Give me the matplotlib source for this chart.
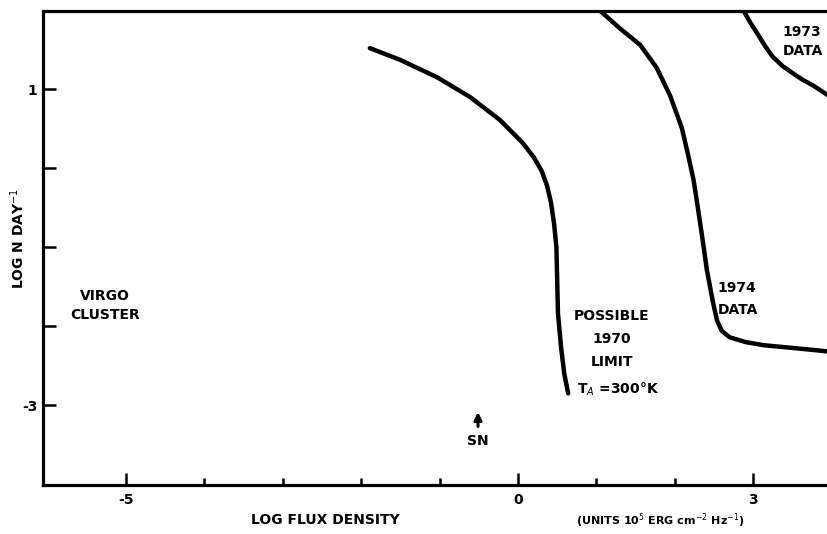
import matplotlib
matplotlib.use("Agg")
import matplotlib.pyplot as plt

# curves (log flux density, log N per day)
limit_1970_x = [-1.89, -1.50, -1.03, -0.61, -0.23, 0.06, 0.20, 0.30, 0.37,
                0.42, 0.46, 0.49, 0.50, 0.51, 0.55, 0.59, 0.64]
limit_1970_y = [1.52, 1.37, 1.15, 0.90, 0.61, 0.32, 0.14, -0.03, -0.22,
                -0.43, -0.70, -1.00, -1.42, -1.84, -2.27, -2.60, -2.85]

data_1974_x = [1.05, 1.30, 1.56, 1.77, 1.94, 2.09, 2.17, 2.24, 2.29, 2.35,
               2.41, 2.49, 2.54, 2.60, 2.70, 2.90, 3.13, 3.45, 3.76, 3.96]
data_1974_y = [1.99, 1.77, 1.56, 1.27, 0.92, 0.51, 0.17, -0.15, -0.47, -0.87,
               -1.29, -1.71, -1.93, -2.06, -2.14, -2.20, -2.24, -2.27, -2.30,
               -2.32]

data_1973_x = [2.88, 2.96, 3.05, 3.15, 3.25, 3.38, 3.51, 3.63, 3.76, 3.96]
data_1973_y = [1.99, 1.85, 1.71, 1.55, 1.41, 1.29, 1.20, 1.12, 1.05, 0.92]

x_ticks = [-5, -4, -3, -2, -1, 0, 1, 2, 3]
x_labeled = [-5, 0, 3]
y_ticks = [1, 0, -1, -2, -3]
y_labeled = [1, -3]

FONT = ["DejaVu Sans"]
TXT = dict(family=FONT, fontweight="bold", fontsize=10, color="black")


def px_to_data(px, py):
    # helper for placing annotations, based on the scan's pixel grid
    return (px - 518) / 78.4, (168 - py) / 79.0


def main():
    fig = plt.figure(figsize=(8.28, 5.34), dpi=100)
    ax = fig.add_axes([43 / 828, 49 / 534, 785 / 828, 474 / 534])

    ax.set_xlim(-6.06, 3.955)
    ax.set_ylim(-4.01, 1.99)

    for xs, ys in [(limit_1970_x, limit_1970_y),
                   (data_1974_x, data_1974_y),
                   (data_1973_x, data_1973_y)]:
        ax.plot(xs, ys, color="black", lw=3.2, solid_capstyle="round",
                solid_joinstyle="round")

    for side in ["left", "bottom", "top"]:
        ax.spines[side].set_linewidth(2.3)
    ax.spines["right"].set_visible(False)

    ax.set_xticks(x_labeled)
    ax.set_xticks([t for t in x_ticks if t not in x_labeled], minor=True)
    ax.set_xticklabels([str(t) for t in x_labeled], **TXT)
    ax.set_yticks(y_ticks)
    ax.set_yticklabels([str(t) if t in y_labeled else "" for t in y_ticks], **TXT)

    ax.tick_params(axis="x", which="major", direction="in", length=9, width=1.8, pad=6)
    ax.tick_params(axis="x", which="minor", direction="in", length=5, width=1.8)
    ax.tick_params(axis="y", direction="in", length=9, width=1.8, pad=4)

    fig.text(18 / 828, 1 - 238 / 534, "LOG N DAY$^{-1}$", rotation=90,
             ha="center", va="center", **TXT)
    fig.text(325 / 828, 1 - 520 / 534, "LOG FLUX DENSITY",
             ha="center", va="center", **TXT)
    fig.text(660 / 828, 1 - 521 / 534,
             "(UNITS 10$^{5}$ ERG cm$^{-2}$ Hz$^{-1}$)",
             ha="center", va="center", family=FONT, fontweight="bold",
             fontsize=8)

    labels = [
        (105, 296, "VIRGO"), (105, 315, "CLUSTER"),
        (612, 316, "POSSIBLE"), (612, 339, "1970"), (612, 362, "LIMIT"),
        (618, 389, "T$_A$ =300°K"),
        (737, 288, "1974"), (738, 310, "DATA"),
        (802, 32, "1973"), (803, 51, "DATA"),
        (478, 441, "SN"),
    ]
    for px, py, s in labels:
        x, y = px_to_data(px, py)
        ax.text(x, y, s, ha="center", va="center", **TXT)

    x0, y0 = px_to_data(478, 429)
    x1, y1 = px_to_data(478, 409)
    ax.annotate("", xy=(x1, y1), xytext=(x0, y0),
                arrowprops=dict(arrowstyle="-|>", color="black", lw=2.2,
                                mutation_scale=11))

    fig.savefig("out.png", dpi=100)
    plt.close(fig)


if __name__ == "__main__":
    main()
